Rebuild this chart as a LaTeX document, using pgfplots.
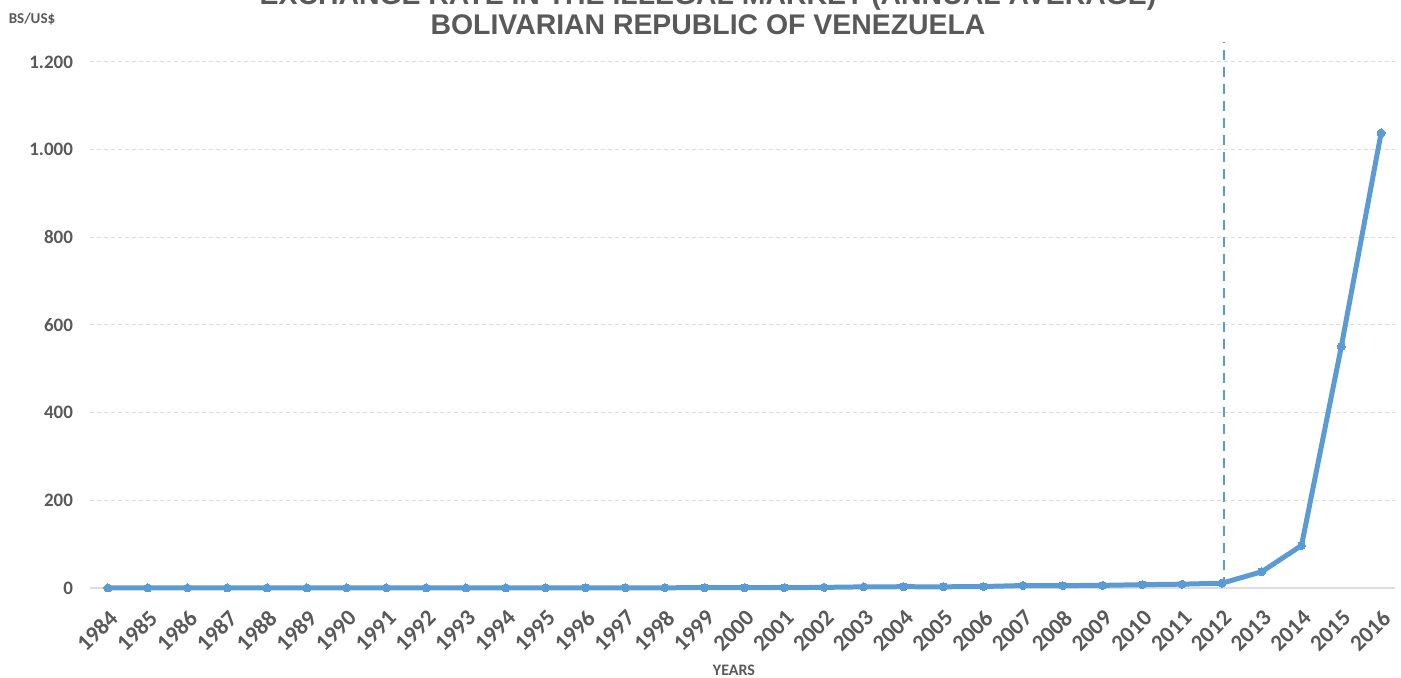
\documentclass[border=0pt]{standalone}
\usepackage{fontspec}
\setmainfont{Carlito}
\newfontfamily\titlefont{Liberation Sans}
\usepackage{pgfplots}
\pgfplotsset{compat=1.18}
\definecolor{lineblue}{HTML}{5B9BD5}
\definecolor{txtgrey}{HTML}{595959}
\definecolor{gridgrey}{HTML}{DDDDDD}
\begin{document}
\begin{tikzpicture}
\begin{axis}[
  at={(45pt,45pt)}, anchor=south west,
  scale only axis, width=652.5pt, height=263pt,
  xmin=1983.55, xmax=2016.35, ymin=0, ymax=1200,
  clip=false,
  axis line style={draw=none},
  xtick={1984,...,2016},
  ytick={0,200,...,1200},
  major tick length=0pt,
  ymajorgrids, grid style={gridgrey, dash pattern=on 2pt off 1.5pt, line width=0.5pt},
  /pgf/number format/assume math mode=true,
  /pgf/number format/1000 sep={.},
  x tick label style={/pgf/number format/1000 sep={}, xshift=3pt, yshift=-13pt, rotate=45, anchor=east, font=\bfseries\fontsize{11.5}{13}\selectfont, text=txtgrey, inner sep=0pt},
  y tick label style={font=\bfseries\fontsize{9.5}{11}\selectfont, text=txtgrey, xshift=-5pt},
]
\draw[gridgrey, line width=0.6pt] (axis cs:1983.55,0) -- (axis cs:2016.35,0);
\addplot[lineblue, line width=1.2pt, dash pattern=on 5pt off 3.5pt] coordinates {(2012.05,2) (2012.05,1246)};
\addplot[lineblue, line width=2.5pt, line join=round, mark=*, mark size=2pt, mark options={solid, fill=lineblue, draw=lineblue, line width=0pt}] coordinates {
(1984,0.015) (1985,0.02) (1986,0.02) (1987,0.03) (1988,0.04) (1989,0.04)
(1990,0.05) (1991,0.06) (1992,0.07) (1993,0.1) (1994,0.17) (1995,0.3)
(1996,0.48) (1997,0.5) (1998,0.55) (1999,0.6) (2000,0.68) (2001,0.72)
(2002,1.4) (2003,2.6) (2004,2.9) (2005,2.7) (2006,3.4) (2007,5.6)
(2008,5.5) (2009,6.0) (2010,7.6) (2011,8.7) (2012,11) (2013,37)
(2014,97) (2015,551) (2016,1038)
};
\end{axis}
\node[font=\titlefont\bfseries\fontsize{14.2}{17}\selectfont, text=txtgrey] at (354pt,340.5pt) {EXCHANGE RATE IN THE ILLEGAL MARKET (ANNUAL AVERAGE)};
\node[font=\titlefont\bfseries\fontsize{14.2}{17}\selectfont, text=txtgrey] at (354pt,326.5pt) {BOLIVARIAN REPUBLIC OF VENEZUELA};
\node[font=\bfseries\fontsize{7.5}{9}\selectfont, text=txtgrey] at (16pt,329.5pt) {BS/US\$};
\node[font=\bfseries\fontsize{8}{10}\selectfont, text=txtgrey] at (367pt,4pt) {YEARS};
\pgfresetboundingbox
\path[use as bounding box] (0,0) rectangle (700.5pt,339pt);
\end{tikzpicture}
\end{document}
